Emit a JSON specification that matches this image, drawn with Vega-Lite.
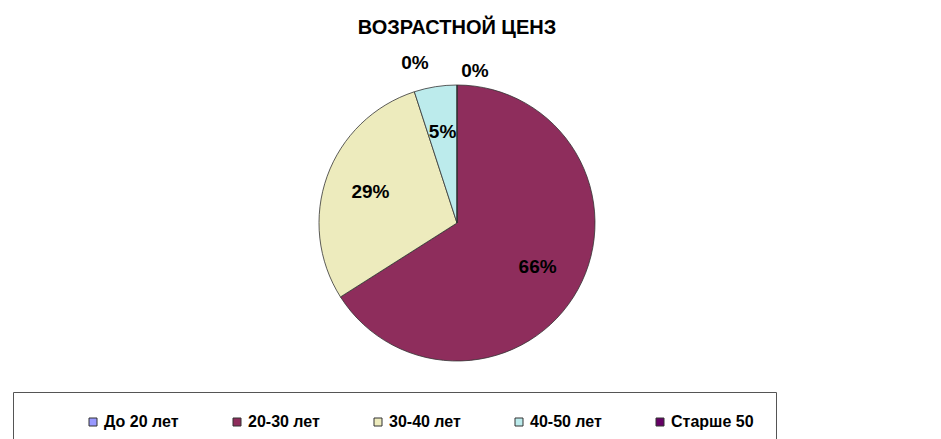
{
  "$schema": "https://vega.github.io/schema/vega-lite/v6.json",
  "width": 941,
  "height": 439,
  "autosize": {"type": "fit", "contains": "padding"},
  "padding": {"left": 13, "right": 40, "top": 22, "bottom": -14},
  "background": "white",
  "title": {
    "text": "ВОЗРАСТНОЙ ЦЕНЗ",
    "font": "Liberation Sans",
    "fontSize": 20,
    "fontWeight": "bold",
    "color": "black",
    "anchor": "middle",
    "offset": 16
  },
  "data": {
    "values": [
      {"cat": "До 20 лет", "value": 0, "ord": 1, "label": "0%"},
      {"cat": "20-30 лет", "value": 66, "ord": 2, "label": "66%"},
      {"cat": "30-40 лет", "value": 29, "ord": 3, "label": "29%"},
      {"cat": "40-50 лет", "value": 5, "ord": 4, "label": "5%"},
      {"cat": "Старше 50", "value": 0, "ord": 5, "label": "0%"}
    ]
  },
  "encoding": {
    "theta": {"field": "value", "type": "quantitative", "stack": true},
    "order": {"field": "ord", "type": "quantitative"}
  },
  "layer": [
    {
      "mark": {"type": "arc", "outerRadius": 138, "stroke": "#333333", "strokeWidth": 0.8},
      "encoding": {
        "color": {
          "field": "cat",
          "type": "nominal",
          "sort": ["До 20 лет", "20-30 лет", "30-40 лет", "40-50 лет", "Старше 50"],
          "scale": {
            "domain": ["До 20 лет", "20-30 лет", "30-40 лет", "40-50 лет", "Старше 50"],
            "range": ["#9999FF", "#8E2D5C", "#EDEBBD", "#BCEBEC", "#660066"]
          },
          "legend": {
            "title": null,
            "direction": "horizontal",
            "orient": "bottom",
            "columns": 5,
            "columnPadding": 0,
            "symbolOffset": 50,
            "symbolType": "square",
            "symbolSize": 64,
            "symbolStrokeColor": "#333333",
            "symbolStrokeWidth": 1,
            "labelFont": "Liberation Sans",
            "labelFontSize": 16,
            "labelFontWeight": "bold",
            "labelColor": "black",
            "labelOffset": 3,
            "strokeColor": "#555555",
            "padding": 22,
            "offset": 4
          }
        }
      }
    },
    {
      "transform": [{"filter": "datum.value > 0"}],
      "mark": {"type": "text", "radius": 92, "font": "Liberation Sans", "fontSize": 19, "fontWeight": "bold", "color": "black"},
      "encoding": {"text": {"field": "label"}}
    },
    {
      "transform": [{"filter": "datum.cat == 'До 20 лет'"}],
      "mark": {"type": "text", "radius": 160, "dx": -42, "font": "Liberation Sans", "fontSize": 19, "fontWeight": "bold", "color": "black"},
      "encoding": {"text": {"field": "label"}}
    },
    {
      "transform": [{"filter": "datum.cat == 'Старше 50'"}],
      "mark": {"type": "text", "radius": 152, "dx": 18, "font": "Liberation Sans", "fontSize": 19, "fontWeight": "bold", "color": "black"},
      "encoding": {"text": {"field": "label"}}
    }
  ],
  "config": {"view": {"stroke": null}}
}
